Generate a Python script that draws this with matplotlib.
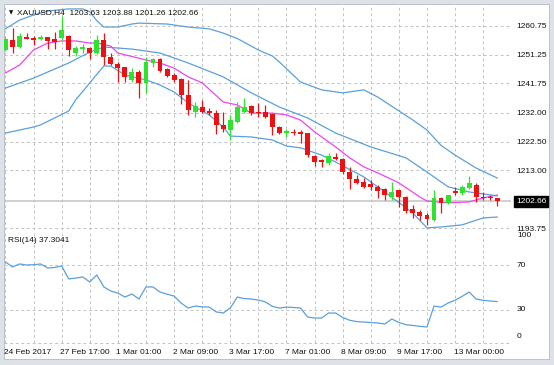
import numpy as np
import matplotlib
matplotlib.use("Agg")
import matplotlib.pyplot as plt
import matplotlib.transforms as mtransforms
from matplotlib.patches import Rectangle

plt.rcParams['font.family'] = ['Liberation Sans', 'DejaVu Sans']

# H4 candles, 24 Feb 2017 .. 13 Mar 2017
opens = [1252.8, 1256.1, 1253.8, 1257.1, 1256.8, 1256.5, 1257.1, 1256.6, 1256.8, 1257.4,
         1251.8, 1253.1, 1253.5, 1251.8, 1256.1, 1250.5, 1248.2, 1247.2, 1242.9, 1245.5,
         1241.9, 1248.5, 1249.8, 1246.5, 1244.5, 1243.2, 1237.9, 1232.3, 1233.9, 1232.6,
         1231.9, 1228.0, 1226.3, 1229.0, 1232.3, 1234.3, 1232.3, 1232.3, 1231.6, 1227.3,
         1225.3, 1225.7, 1225.7, 1225.3, 1217.7, 1216.4, 1215.4, 1217.4, 1216.7, 1212.4,
         1210.1, 1209.1, 1208.4, 1207.4, 1206.8, 1204.1, 1206.5, 1204.1, 1200.2, 1199.2,
         1198.2, 1196.5, 1203.8, 1202.2, 1206.1, 1205.5, 1207.1, 1208.1, 1204.1, 1203.8,
         1203.63]
highs = [1257.1, 1260.1, 1258.4, 1258.4, 1257.4, 1257.8, 1257.1, 1258.8, 1264.1, 1257.8,
         1254.1, 1254.8, 1253.8, 1257.8, 1258.4, 1251.8, 1248.8, 1247.2, 1246.8, 1246.2,
         1250.5, 1250.2, 1250.2, 1246.8, 1245.2, 1243.5, 1242.9, 1235.6, 1236.2, 1233.6,
         1232.9, 1232.3, 1231.3, 1235.6, 1236.9, 1234.6, 1235.3, 1234.6, 1231.9, 1227.6,
         1226.7, 1226.7, 1226.3, 1225.3, 1218.0, 1216.7, 1218.7, 1218.7, 1217.0, 1214.1,
         1211.4, 1210.4, 1209.8, 1208.1, 1207.1, 1209.1, 1206.5, 1204.5, 1201.5, 1199.8,
         1198.8, 1206.5, 1204.1, 1204.8, 1207.4, 1208.1, 1211.1, 1208.8, 1205.8, 1204.8,
         1203.88]
lows = [1252.5, 1251.8, 1253.5, 1256.3, 1254.5, 1256.1, 1253.1, 1253.1, 1256.1, 1250.8,
        1250.8, 1251.8, 1249.8, 1251.6, 1247.8, 1247.8, 1242.2, 1242.2, 1242.2, 1236.9,
        1238.6, 1247.2, 1245.5, 1243.9, 1242.2, 1234.9, 1231.3, 1230.6, 1231.9, 1231.3,
        1225.0, 1225.7, 1223.0, 1228.6, 1231.9, 1231.3, 1230.6, 1230.3, 1224.7, 1225.0,
        1224.0, 1224.7, 1222.0, 1217.4, 1214.4, 1214.1, 1214.7, 1216.4, 1211.8, 1206.8,
        1208.4, 1207.1, 1206.5, 1203.8, 1203.1, 1203.1, 1200.8, 1198.8, 1197.2, 1196.5,
        1194.9, 1196.2, 1198.8, 1201.8, 1204.8, 1204.8, 1206.8, 1202.5, 1203.1, 1203.1,
        1201.26]
closes = [1256.5, 1253.8, 1257.4, 1256.5, 1256.1, 1257.1, 1255.8, 1255.6, 1259.4, 1252.8,
          1253.5, 1253.8, 1251.8, 1256.1, 1250.5, 1248.2, 1246.8, 1243.9, 1245.5, 1241.9,
          1248.8, 1249.8, 1245.9, 1244.2, 1242.9, 1237.9, 1232.9, 1234.3, 1232.3, 1231.9,
          1228.0, 1226.7, 1229.6, 1233.9, 1233.9, 1231.9, 1231.9, 1230.6, 1227.3, 1225.3,
          1226.0, 1225.3, 1225.0, 1218.0, 1215.7, 1215.7, 1217.7, 1216.7, 1212.4, 1210.1,
          1208.8, 1207.4, 1207.4, 1206.1, 1204.8, 1205.8, 1204.1, 1199.5, 1198.8, 1197.8,
          1196.9, 1203.8, 1202.2, 1204.8, 1205.5, 1207.4, 1208.8, 1204.1, 1203.8, 1203.7,
          1202.66]

# bollinger bands + moving average, sampled at bar indices
upper_idx = [0, 2, 4, 6, 9, 11, 12, 13, 14, 16, 18, 19, 23, 26, 29, 31, 33, 36, 38, 39,
             42, 45, 48, 51, 53, 58, 60, 62, 64, 67, 70]
upper_val = [1259.8, 1262.7, 1264.4, 1265.7, 1266.4, 1266.4, 1265.5, 1262.5, 1260.4, 1260.4,
             1261.4, 1261.7, 1261.4, 1260.4, 1259.8, 1258.4, 1256.6, 1252.8, 1250.8, 1248.8,
             1242.2, 1239.6, 1238.6, 1239.6, 1237.2, 1229.6, 1226.3, 1221.2, 1218.0, 1213.7, 1210.4]
mid_idx = [0, 4, 9, 12, 14, 18, 22, 26, 31, 35, 39, 43, 47, 52, 57, 60, 63, 66, 70]
mid_val = [1240.2, 1243.5, 1248.5, 1252.1, 1253.8, 1253.1, 1251.8, 1248.5, 1243.9, 1238.6,
           1233.9, 1230.3, 1225.3, 1220.7, 1217.1, 1212.4, 1207.5, 1205.8, 1204.5]
lower_idx = [0, 4, 5, 9, 10, 12, 14, 15, 17, 20, 22, 24, 26, 29, 31, 32, 35, 38, 40, 42,
             45, 47, 51, 54, 58, 60, 62, 65, 68, 70]
lower_val = [1225.3, 1227.3, 1228.0, 1232.6, 1236.3, 1241.9, 1247.5, 1247.5, 1244.5, 1242.9,
             1241.2, 1238.9, 1235.3, 1231.3, 1227.3, 1224.3, 1224.0, 1223.0, 1221.0, 1220.4,
             1218.0, 1215.7, 1210.8, 1205.8, 1198.8, 1193.9, 1194.2, 1194.9, 1197.2, 1197.5]
ma_idx = [0, 2, 4, 6, 8, 10, 12, 13, 15, 16, 20, 22, 24, 26, 28, 31, 33, 35, 38, 40,
          42, 44, 47, 49, 51, 53, 56, 59, 60, 63, 66, 68, 70]
ma_val = [1245.2, 1247.8, 1252.8, 1255.1, 1255.8, 1255.8, 1255.1, 1255.1, 1254.1, 1251.8,
          1249.5, 1248.5, 1246.8, 1243.9, 1241.9, 1235.6, 1234.6, 1231.9, 1231.9, 1231.3,
          1229.6, 1225.7, 1220.7, 1217.1, 1214.1, 1212.1, 1208.8, 1204.1, 1202.8, 1202.2,
          1202.5, 1203.8, 1204.8]

rsi = [73.0, 68.5, 71.2, 70.3, 70.5, 71.2, 67.6, 68.0, 69.4, 57.7,
       58.5, 59.5, 55.0, 61.3, 50.5, 46.8, 45.0, 41.4, 44.1, 39.6,
       50.5, 50.5, 45.9, 44.0, 42.3, 36.0, 31.5, 33.3, 32.5, 32.4,
       28.0, 27.0, 31.5, 41.4, 40.0, 39.6, 38.7, 37.0, 33.0, 31.5,
       32.4, 32.0, 31.5, 23.4, 22.5, 22.5, 27.0, 27.0, 23.0, 20.5,
       19.3, 18.8, 18.5, 18.0, 17.1, 21.6, 18.5, 16.5, 15.8, 15.0,
       14.4, 33.3, 32.4, 36.0, 38.5, 42.0, 45.9, 39.6, 38.5, 37.8,
       37.3]

price_ticks = [1260.75, 1251.25, 1241.75, 1232.00, 1222.50, 1213.00, 1193.75]
time_pos = [0, 8, 16, 24, 32, 40, 48, 56, 64]
time_labels = ["24 Feb 2017", "27 Feb 17:00", "1 Mar 01:00", "2 Mar 09:00", "3 Mar 17:00",
               "7 Mar 01:00", "8 Mar 09:00", "9 Mar 17:00", "13 Mar 00:00"]
last_price = 1202.66

W, H = 554, 365
fs = 6.0
txt_c = '#111111'
grid_c = '#c2c2c2'
dash = (0, (2.9, 2.9))
bb_c = '#5aa0dc'
up_c = '#2ee22e'
dn_c = '#ee1111'


def frac(x0, y0, x1, y1):
    return [x0 / W, 1 - y1 / H, (x1 - x0) / W, (y1 - y0) / H]


fig = plt.figure(figsize=(W / 100, H / 100), dpi=100, facecolor='#dde2e8')
fig.patches.append(Rectangle((4 / W, 1 - 359 / H), 545 / W, 355 / H, transform=fig.transFigure,
                             facecolor='white', edgecolor='#b4bac2', lw=0.6, zorder=-5))

ax = fig.add_axes(frac(4, 4, 511, 230))
ax2 = fig.add_axes(frac(4, 232, 511, 343))
for a in (ax, ax2):
    a.set_facecolor('none')
    a.set_zorder(2)
    for s in a.spines.values():
        s.set_visible(False)
    a.set_xlim(-0.21, 71.96)
    a.set_xticks([])
    a.tick_params(length=0)
    for g in range(0, 73, 4):
        a.axvline(g, color=grid_c, lw=0.7, ls=dash, zorder=0)

# main price panel
ax.set_ylim(1193.2, 1268.03)
for p in price_ticks:
    ax.axhline(p, color=grid_c, lw=0.7, ls=dash, zorder=0)
ax.yaxis.tick_right()
ax.set_yticks(price_ticks)
ax.set_yticklabels([f"{p:.2f}" for p in price_ticks])
ax.tick_params(axis='y', length=0, pad=3.8, labelsize=fs, labelcolor=txt_c)
ax.axhline(last_price, color='#c4c4c4', lw=1.1, zorder=1)

o = np.array(opens)
h = np.array(highs)
l = np.array(lows)
c = np.array(closes)
idx = np.arange(len(c))
cols = [up_c if cc >= oo else dn_c for oo, cc in zip(o, c)]
ax.vlines(idx, l, h, colors=cols, lw=0.9, zorder=3)
ax.bar(idx, np.maximum(np.abs(c - o), 0.33), bottom=np.minimum(o, c), width=0.7,
       color=cols, zorder=4)

ax.plot(upper_idx, upper_val, color=bb_c, lw=0.9, zorder=2)
ax.plot(mid_idx, mid_val, color=bb_c, lw=0.9, zorder=2)
ax.plot(lower_idx, lower_val, color=bb_c, lw=0.9, zorder=2)
ax.plot(ma_idx, ma_val, color='#ee44ee', lw=0.9, zorder=2)

tr = mtransforms.blended_transform_factory(ax.transAxes, ax.transData)
ax.text(1.0 + 5 / 507, last_price, f"{last_price:.2f}", transform=tr, ha='left', va='center',
        fontsize=fs, color='white',
        bbox=dict(boxstyle='square,pad=0.25', facecolor='black', edgecolor='black'))

fig.text(11 / W, 1 - 13 / H, '\u25bc', fontsize=4, ha='center', va='center', family='DejaVu Sans',
         color=txt_c)
fig.text(17 / W, 1 - 13 / H, 'XAUUSD,H4  1203.63 1203.88 1201.26 1202.66', fontsize=fs,
         ha='left', va='center', color=txt_c)

# RSI panel
ax2.set_ylim(0, 100)
ax2.set_yticks([])
for lv in (70, 30):
    ax2.axhline(lv, color=grid_c, lw=0.7, ls=dash, zorder=0)
ax2.axhline(0, color=grid_c, lw=0.7, ls=dash, zorder=0, clip_on=False)
ax2.plot(idx, rsi, color=bb_c, lw=0.9)
tr2 = mtransforms.blended_transform_factory(ax2.transAxes, ax2.transData)
lx = 1.0 + 6 / 507
ax2.text(lx, 100, '100', transform=tr2, ha='left', va='top', fontsize=fs, color=txt_c)
ax2.text(lx, 70, '70', transform=tr2, ha='left', va='center', fontsize=fs, color=txt_c)
ax2.text(lx, 30, '30', transform=tr2, ha='left', va='center', fontsize=fs, color=txt_c)
ax2.text(lx, 3, '0', transform=tr2, ha='left', va='bottom', fontsize=fs, color=txt_c)
fig.text(8 / W, 1 - 240 / H, 'RSI(14) 37.3041', fontsize=fs, ha='left', va='center', color=txt_c)

# time axis
trt = mtransforms.blended_transform_factory(ax2.transData, fig.transFigure)
for pos, lab in zip(time_pos, time_labels):
    ax2.text(pos - 0.2, 1 - 352 / H, lab, transform=trt, ha='left', va='center', fontsize=fs,
             color=txt_c)

fig.savefig('out.png', dpi=100, facecolor=fig.get_facecolor())
